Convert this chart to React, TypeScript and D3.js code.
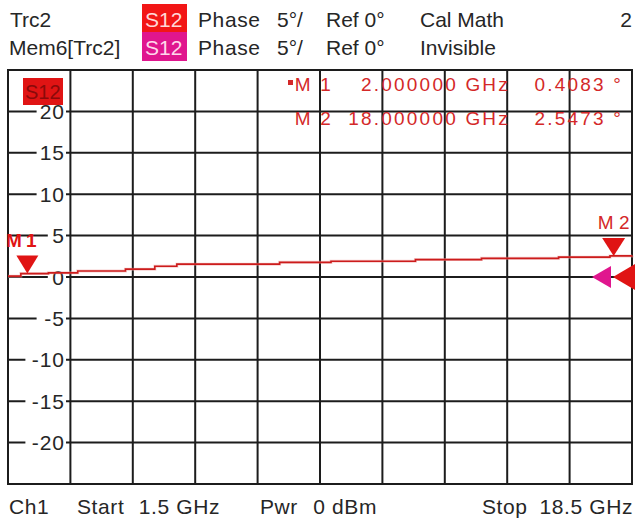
import React from "react";
import * as d3 from "d3";

const W = 637;
const H = 528;

// Data
const traceFreqGHz = [1.5, 1.85, 2.6, 3.4, 4.7, 5.5, 6.1, 8.9, 10.3, 12.6, 14.4, 16.5, 17.9, 18.5];
const tracePhaseDeg = [0.1, 0.41, 0.5, 0.72, 0.95, 1.3, 1.55, 1.77, 1.9, 2.1, 2.25, 2.4, 2.55, 2.6];
const markerNames = ["M 1", "M 2"];
const markerFreqGHz = [2.0, 18.0];
const markerPhaseDeg = [0.4083, 2.5473];
const markerFreqText = ["2.000000 GHz", "18.000000 GHz"];
const markerValueText = ["0.4083 °", "2.5473 °"];
const yTicks = [20, 15, 10, 5, 0, -5, -10, -15, -20];
const startGHz = 1.5;
const stopGHz = 18.5;
const yMin = -25;
const yMax = 25;
const xDivisions = 10;

const FONT = "'Liberation Sans', Arial, sans-serif";
const TEXT = "#262626";
const GRID = "#1c1c1c";
const RED = "#e01414";
const MRED = "#d42828";
const MAGENTA = "#e0168e";

export default function App() {
  const left = 8;
  const right = 632;
  const top = 70;
  const bottom = 484;
  const x = d3.scaleLinear().domain([startGHz, stopGHz]).range([left, right]);
  const y = d3.scaleLinear().domain([yMin, yMax]).range([bottom, top]);

  const xGrid = d3.range(1, xDivisions).map((i) => startGHz + (i * (stopGHz - startGHz)) / xDivisions);

  const pts = traceFreqGHz.map((f, i) => [f, tracePhaseDeg[i]] as [number, number]);
  const line = d3
    .line<[number, number]>()
    .x((d) => x(d[0]))
    .y((d) => y(d[1]))
    .curve(d3.curveStepAfter);
  const path = line(pts) || "";

  const tri = (cx: number, tipY: number, w: number, h: number) =>
    `M${cx},${tipY} L${cx - w / 2},${tipY - h} L${cx + w / 2},${tipY - h} Z`;

  const m1x = x(markerFreqGHz[0]);
  const m1y = y(markerPhaseDeg[0]);
  const m2x = x(markerFreqGHz[1]);
  const m2y = y(markerPhaseDeg[1]);

  return (
    <svg
      width={W}
      height={H}
      style={{ position: "fixed", left: 0, top: 0, background: "#fff" }}
      fontFamily={FONT}
    >
      <rect x={0} y={0} width={W} height={H} fill="#fff" />
      {/* Header */}
      <g fontSize={21} fill={TEXT}>
        <text x={10} y={27}>Trc2</text>
        <text x={9} y={55}>Mem6[Trc2]</text>
        <rect x={142} y={4} width={45} height={28} fill="#f21616" />
        <text x={145} y={27} fill="#ffd8d8">S12</text>
        <rect x={142} y={32} width={45} height={29} fill={MAGENTA} />
        <text x={145} y={55} fill="#ffd8ec">S12</text>
        {[27, 55].map((by) => (
          <g key={by}>
            <text x={198} y={by} letterSpacing={0.6}>Phase</text>
            <text x={277} y={by}>5°/</text>
            <text x={326} y={by}>Ref 0°</text>
          </g>
        ))}
        <text x={420} y={27}>Cal Math</text>
        <text x={420} y={55}>Invisible</text>
        <text x={632} y={27} textAnchor="end">2</text>
      </g>

      {/* Grid */}
      <g stroke={GRID} strokeWidth={2}>
        {yTicks.map((t) => (
          <line key={"h" + t} x1={left} x2={right} y1={y(t)} y2={y(t)} />
        ))}
        {xGrid.map((f, i) => (
          <line key={"v" + i} x1={x(f)} x2={x(f)} y1={top} y2={bottom} />
        ))}
        <rect x={left} y={top} width={right - left} height={bottom - top} fill="none" />
      </g>

      {/* Y labels with white backing */}
      <g fontSize={21} fill={TEXT}>
        {yTicks.map((t) => {
          const label = String(t);
          const wEst = label.length * 11.2;
          return (
            <g key={"l" + t}>
              <rect x={64 - wEst - 5} y={y(t) - 3} width={wEst + 7} height={6} fill="#fff" />
              <text x={65} y={y(t) + 7.5} textAnchor="end" letterSpacing={1}>{label}</text>
            </g>
          );
        })}
      </g>

      {/* S12 label box in plot */}
      <rect x={23} y={78} width={40} height={27} fill={RED} />
      <text x={25} y={99} fontSize={20} fill="#8a0a0a">S12</text>

      {/* Marker info */}
      <g fontSize={19} fill={MRED} letterSpacing={2.2}>
        <rect x={288} y={80} width={5} height={5} fill={MRED} />
        {markerNames.map((n, i) => (
          <g key={n}>
            <text x={333} y={91 + i * 34} textAnchor="end">{n}</text>
            <text x={510} y={91 + i * 34} textAnchor="end">{markerFreqText[i]}</text>
            <text x={623} y={91 + i * 34} textAnchor="end">{markerValueText[i]}</text>
          </g>
        ))}
      </g>

      {/* Trace */}
      <path d={path} fill="none" stroke="#f0a0a0" strokeWidth={3} opacity={0.5} />
      <path d={path} fill="none" stroke="#cc1c1c" strokeWidth={1.6} />

      {/* Markers */}
      <path d={tri(m1x + 1, m1y, 22, 18)} fill={RED} />
      <text x={6} y={247} fontSize={19} fontWeight="bold" fill={RED} letterSpacing={-0.5}>M 1</text>
      <path d={tri(m2x, m2y, 23, 18)} fill={RED} />
      <text x={m2x} y={229} fontSize={19} fill={MRED} textAnchor="middle">M 2</text>

      {/* Reference level arrows */}
      <path d={`M592,${y(0)} L611,${y(0) - 11} L611,${y(0) + 11} Z`} fill={MAGENTA} />
      <path d={`M613,${y(0)} L635,${y(0) - 13} L635,${y(0) + 13} Z`} fill={RED} />

      {/* Footer */}
      <g fontSize={21} fill={TEXT} letterSpacing={0.6}>
        <text x={9} y={514}>Ch1</text>
        <text x={77} y={514}>Start</text>
        <text x={220} y={514} textAnchor="end">1.5 GHz</text>
        <text x={260} y={514}>Pwr</text>
        <text x={377} y={514} textAnchor="end">0 dBm</text>
        <text x={482} y={514}>Stop</text>
        <text x={633} y={514} textAnchor="end">18.5 GHz</text>
      </g>
    </svg>
  );
}
